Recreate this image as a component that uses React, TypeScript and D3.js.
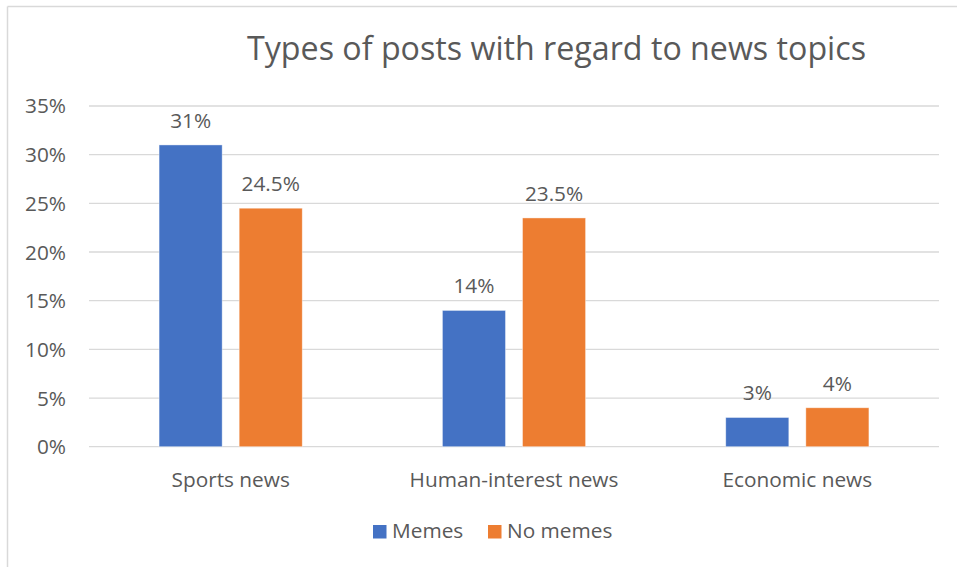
import React from "react";
import * as d3 from "d3";

const categories = ["Sports news", "Human-interest news", "Economic news"];
const seriesNames = ["Memes", "No memes"];
const memes = [31, 14, 3];
const noMemes = [24.5, 23.5, 4];
const memesLabels = ["31%", "14%", "3%"];
const noMemesLabels = ["24.5%", "23.5%", "4%"];
const yTicks = [0, 5, 10, 15, 20, 25, 30, 35];
const colors = ["#4472C4", "#ED7D31"];
const title = "Types of posts with regard to news topics";

const W = 957;
const H = 567;
const FONT = "'Open Sans', 'DejaVu Sans', sans-serif";
const TXT = "#595959";
const FS = 20.8;

export default function App() {
  const x = d3.scaleBand<string>().domain(categories).range([89, 939]);
  const y = d3.scaleLinear().domain([0, 35]).range([446.7, 106]);
  const inner = d3
    .scaleBand<string>()
    .domain(seriesNames)
    .range([0, x.bandwidth()])
    .paddingInner(0.2125)
    .paddingOuter(0.875);
  const values = [memes, noMemes];
  const labels = [memesLabels, noMemesLabels];

  return (
    <div style={{ position: "fixed", left: 0, top: 0 }}>
      <svg width={W} height={H} style={{ display: "block", background: "#fff" }}>
        <rect x={0} y={0} width={W} height={H} fill="#fff" />
        <line x1={7.5} y1={6.5} x2={W} y2={6.5} stroke="#D9D9D9" strokeWidth={1.5} />
        <line x1={7.5} y1={6.5} x2={7.5} y2={H} stroke="#D9D9D9" strokeWidth={1.5} />
        <text
          x={556.5}
          y={60}
          textAnchor="middle"
          fontFamily={FONT}
          fontSize={33}
          fill={TXT}
          textLength={619}
          lengthAdjust="spacingAndGlyphs"
        >
          {title}
        </text>
        {yTicks.map((t) => (
          <g key={t}>
            <line x1={89} x2={939} y1={y(t)} y2={y(t)} stroke="#D9D9D9" strokeWidth={1.3} />
            <text
              x={66}
              y={y(t)}
              dy="0.36em"
              textAnchor="end"
              fontFamily={FONT}
              fontSize={FS}
              fill={TXT}
            >
              {t}%
            </text>
          </g>
        ))}
        {categories.map((c, i) => (
          <g key={c}>
            {seriesNames.map((s, j) => {
              const bx = (x(c) as number) + (inner(s) as number);
              const v = values[j][i];
              return (
                <g key={s}>
                  <rect
                    x={bx}
                    y={y(v)}
                    width={inner.bandwidth()}
                    height={y(0) - y(v)}
                    fill={colors[j]}
                    stroke="#fff"
                    strokeOpacity={0.5}
                    strokeWidth={0.8}
                  />
                  <text
                    x={bx + inner.bandwidth() / 2}
                    y={y(v) - 17}
                    textAnchor="middle"
                    fontFamily={FONT}
                    fontSize={FS}
                    fill={TXT}
                  >
                    {labels[j][i]}
                  </text>
                </g>
              );
            })}
            <text
              x={(x(c) as number) + x.bandwidth() / 2}
              y={487}
              textAnchor="middle"
              fontFamily={FONT}
              fontSize={FS}
              fill={TXT}
            >
              {c}
            </text>
          </g>
        ))}
        <g>
          <rect x={373} y={525} width={13.5} height={13.5} fill={colors[0]} />
          <text x={392} y={538} fontFamily={FONT} fontSize={FS} fill={TXT}>
            {seriesNames[0]}
          </text>
          <rect x={488} y={525} width={13.5} height={13.5} fill={colors[1]} />
          <text x={507} y={538} fontFamily={FONT} fontSize={FS} fill={TXT}>
            {seriesNames[1]}
          </text>
        </g>
      </svg>
    </div>
  );
}
